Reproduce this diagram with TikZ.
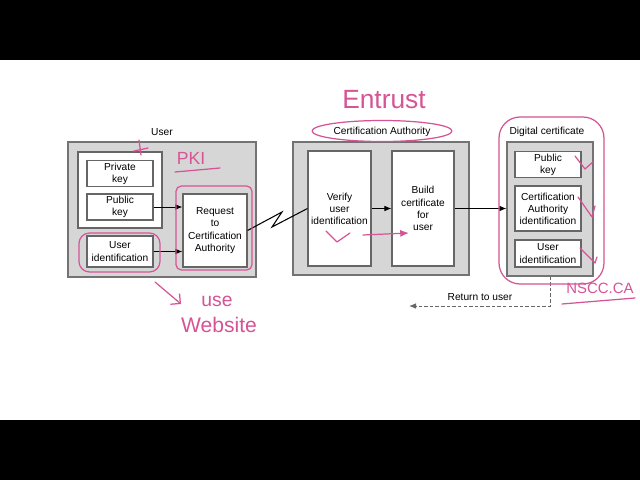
\documentclass[tikz,border=0pt]{standalone}
\usepackage{fontspec}
\setmainfont{Liberation Sans}
\usetikzlibrary{arrows.meta}
\definecolor{inkpink}{RGB}{214,84,150}

\begin{document}
\begin{tikzpicture}[x=0.02cm,y=-0.02cm,
  txt/.style={font=\fontsize{5.8pt}{6.9pt}\selectfont,align=center},
  group/.style={draw=black!55,fill=black!16,line width=0.6pt,inner sep=0pt},
  part/.style={txt,draw=black!60,fill=white,line width=0.6pt,inner sep=1pt},
  flow/.style={-{Latex[length=4pt,width=3.2pt]},line width=0.5pt},
  ink/.style={draw=inkpink,line width=0.7pt,line cap=round,line join=round},
  inktxt/.style={text=inkpink,inner sep=0pt}]
\useasboundingbox (0,0) rectangle (640,480);
\fill[white] (0,0) rectangle (640,480);
\fill[black] (0,0) rectangle (640,60);
\fill[black] (0,420) rectangle (640,480);

% user side
\node[group,minimum width=3.76cm,minimum height=2.7cm] (usr) at (162,209.5) {};
\node[txt] (usrlabel) at (162,132) {User};
\node[part,minimum width=1.68cm,minimum height=1.52cm] (keys) at (120,190) {};
\node[part,minimum width=1.32cm,minimum height=0.5cm] (priv) at (120,173.5) {Private\\key};
\node[part,minimum width=1.32cm,minimum height=0.52cm] (pub) at (120,207) {Public\\key};
\node[part,minimum width=1.32cm,minimum height=0.62cm] (uid) at (120,251.5) {User\\identification};
\node[part,minimum width=1.28cm,minimum height=1.46cm] (req) at (215,230.5) {Request\\to\\Certification\\Authority};
\draw[flow] (pub.east) -- (pub.east -| req.west);
\draw[flow] (uid.east) -- (uid.east -| req.west);

% certification authority
\node[group,minimum width=3.52cm,minimum height=2.66cm] (ca) at (381,208.5) {};
\node[txt] (calabel) at (382,132) {Certification Authority};
\node[part,minimum width=1.26cm,minimum height=2.3cm] (ver) at (339.5,208.5) {Verify\\user\\identification};
\node[part,minimum width=1.24cm,minimum height=2.3cm] (bld) at (423,208.5) {Build\\certificate\\for\\user};
\draw[line width=0.6pt] (req.east) -- (282,212) -- (272,227) -- (ver.west);
\draw[flow] (ver.east) -- (bld.west);

% digital certificate
\node[group,minimum width=1.72cm,minimum height=2.68cm] (dc) at (550,209) {};
\node[txt] (dclabel) at (547,132) {Digital certificate};
\node[part,minimum width=1.32cm,minimum height=0.5cm] (dcpub) at (548,164.5) {Public\\key};
\node[part,minimum width=1.32cm,minimum height=0.9cm] (dcca) at (548,208.5) {Certification\\Authority\\identification};
\node[part,minimum width=1.32cm,minimum height=0.54cm] (dcuid) at (548,253.5) {User\\identification};
\draw[flow] (bld.east) -- (bld.east -| dc.west);

% back to the user
\coordinate (retend) at (409,306);
\draw[flow,black!60,dash pattern=on 2pt off 1.2pt] (dc.south) |- (retend);
\node[txt] (ret) at (480,297) {Return to user};

% pen notes
\node[inktxt,font=\fontsize{15pt}{15pt}\selectfont] (entrust) at (384,100) {Entrust};
\draw[ink] (382,131) ellipse (1.4cm and 0.21cm);
\node[inktxt,font=\fontsize{10pt}{10pt}\selectfont] (pki) at (191,158) {PKI};
\draw[ink] (175,172) -- (220,168);
\draw[ink] (139,140) -- (141,155) (134,151) -- (148,148);
\draw[ink,rounded corners=6pt] (79,233) rectangle (160,272);
\draw[ink,rounded corners=3pt] (176,186) rectangle (252,270);
\node[inktxt,font=\fontsize{11pt}{11pt}\selectfont] (use) at (217,301) {use};
\node[inktxt,font=\fontsize{12pt}{12pt}\selectfont] (web) at (219,325) {Website};
\draw[ink,-{Straight Barb[length=4pt]}] (155,282) -- (181,304);
\draw[ink] (326,231) -- (337,242) -- (350,233);
\draw[ink,-{Latex[length=5pt,width=4pt]}] (363,235) -- (409,233);
\draw[ink,rounded corners=12pt] (499,117) rectangle (604,284);
\foreach \ax/\ay/\bx/\by/\cx/\cy in {575/156/585/169/593/162,578/197/592/217/595/206,580/248/595/263/597/257}
  \draw[ink] (\ax,\ay) -- (\bx,\by) -- (\cx,\cy);
\node[inktxt,font=\fontsize{8.5pt}{8.5pt}\selectfont] (nscc) at (600,288) {NSCC.CA};
\draw[ink] (562,304) -- (635,298);
\end{tikzpicture}
\end{document}
